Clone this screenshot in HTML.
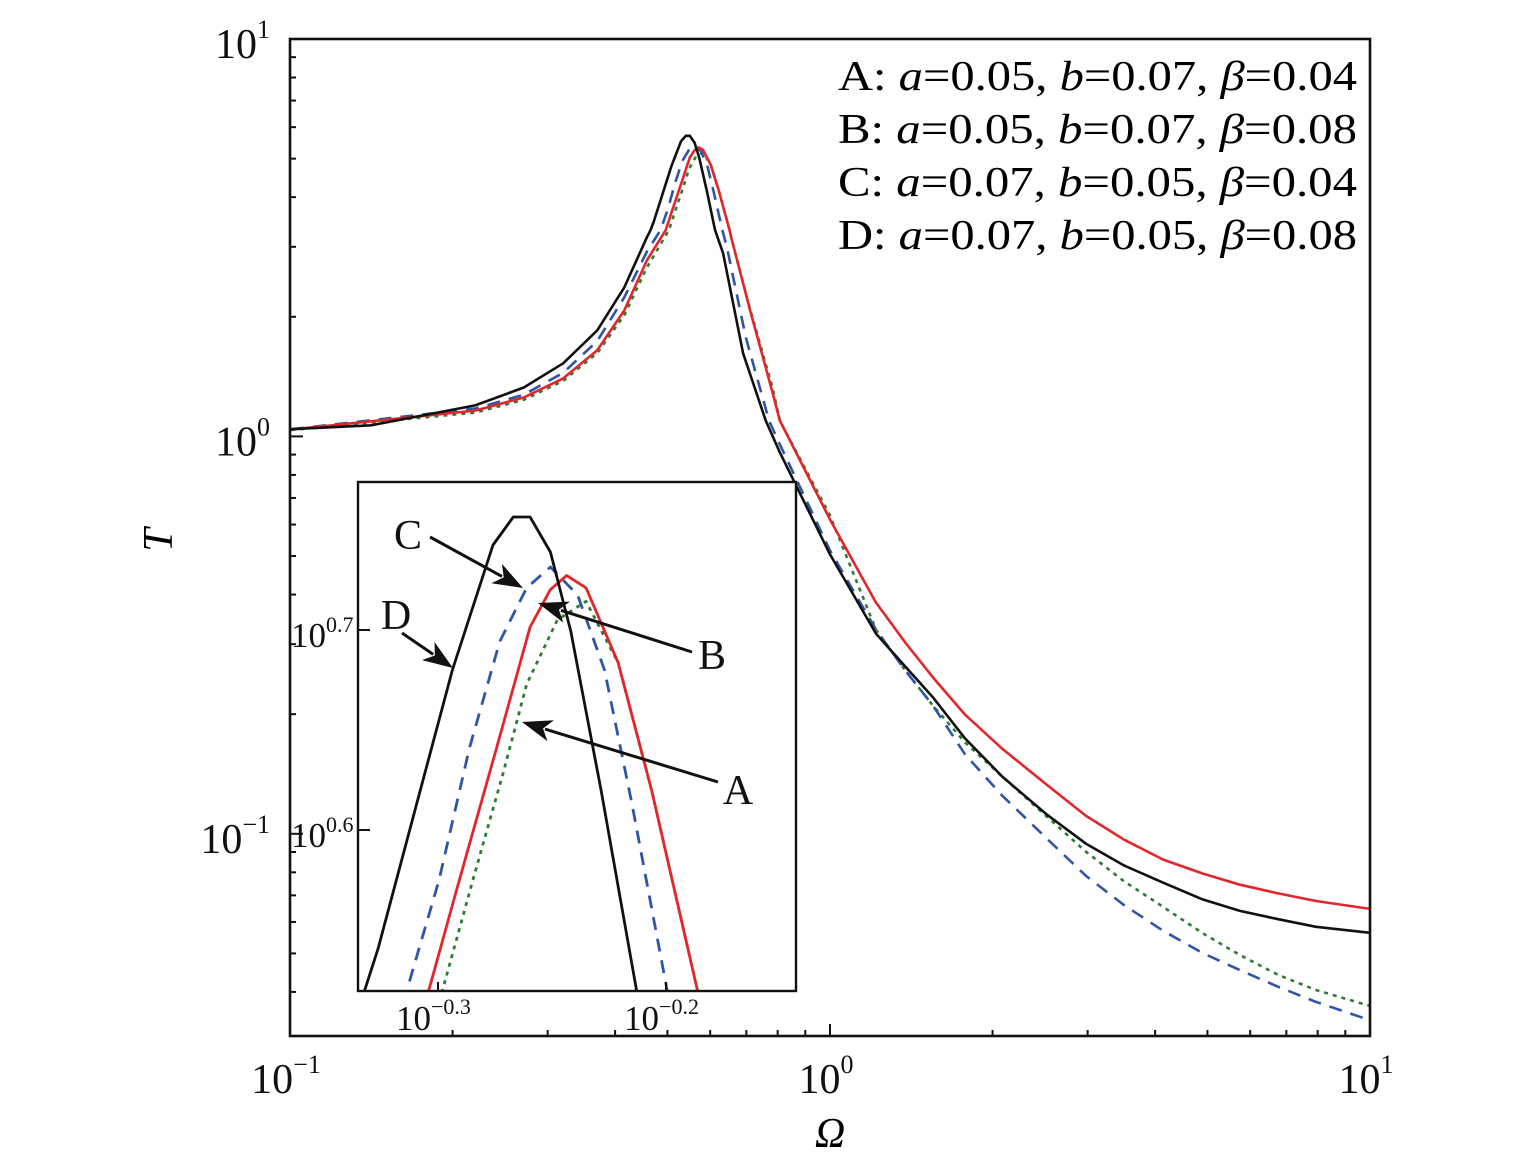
<!DOCTYPE html>
<html><head><meta charset="utf-8"><style>
html,body{margin:0;padding:0;background:#fff;overflow:hidden;width:1535px;height:1167px;}
svg{display:block;font-family:"Liberation Serif","Times New Roman",serif;}
text{font-family:"Liberation Serif","Times New Roman",serif;}
</style></head><body>
<svg id="chart" width="1535" height="1167" viewBox="0 0 1535 1167" xmlns="http://www.w3.org/2000/svg" font-family="Liberation Serif, serif">
<defs>
<clipPath id="mainClip"><rect x="290" y="39" width="1080" height="997"/></clipPath>
<clipPath id="insetClip"><rect x="358" y="482" width="438" height="509"/></clipPath>
</defs>
<g id="main"></g>
<g id="legend">
<text x="838" y="90" font-size="42" textLength="519" lengthAdjust="spacingAndGlyphs">A: <tspan font-style="italic">a</tspan>=0.05, <tspan font-style="italic">b</tspan>=0.07, <tspan font-style="italic">β</tspan>=0.04</text>
<text x="838" y="143" font-size="42" textLength="519" lengthAdjust="spacingAndGlyphs">B: <tspan font-style="italic">a</tspan>=0.05, <tspan font-style="italic">b</tspan>=0.07, <tspan font-style="italic">β</tspan>=0.08</text>
<text x="838" y="196" font-size="42" textLength="519" lengthAdjust="spacingAndGlyphs">C: <tspan font-style="italic">a</tspan>=0.07, <tspan font-style="italic">b</tspan>=0.05, <tspan font-style="italic">β</tspan>=0.04</text>
<text x="838" y="249" font-size="42" textLength="519" lengthAdjust="spacingAndGlyphs">D: <tspan font-style="italic">a</tspan>=0.07, <tspan font-style="italic">b</tspan>=0.05, <tspan font-style="italic">β</tspan>=0.08</text>
</g>
<text x="160" y="552" font-size="42" font-style="italic" text-anchor="middle" transform="rotate(-90 160 540)">T</text>
<text x="830" y="1147" font-size="42" font-style="italic" text-anchor="middle">Ω</text>
<g id="inset"></g>
<g id="annot"></g>
</svg>
<script>
// log10(Omega) and log10(T) values
const seriesNames = ['A','B','C','D'];
const seriesColors = ['#2f7d35','#2f55a8','#e2262b','#111111'];
const seriesDash = ['4,5','13,9','',''];
const logOmegaA = [-0.998,-0.657,-0.567,-0.494,-0.431,-0.381,-0.339,-0.2981,-0.2848,-0.2715,-0.2611,-0.2477,-0.2351,-0.2210,-0.2062,-0.1862,-0.183,-0.148,-0.106,-0.093,0,0.085,0.14,0.191,0.25,0.319,0.40,0.474,0.545,0.617,0.69,0.759,0.83,0.9,1.0];
const logTA = [0.016,0.06,0.092,0.14,0.21,0.305,0.425,0.5197,0.5747,0.6282,0.6729,0.705,0.7143,0.6836,0.6193,0.5197,0.50,0.32,0.12,0.04,-0.199,-0.486,-0.59,-0.678,-0.77,-0.856,-0.955,-1.045,-1.12,-1.184,-1.25,-1.305,-1.355,-1.393,-1.433];
const logOmegaB = [-0.998,-0.657,-0.567,-0.494,-0.431,-0.381,-0.339,-0.3137,-0.2996,-0.2863,-0.2729,-0.2611,-0.2507,-0.2388,-0.2270,-0.2151,-0.1995,-0.191,-0.156,-0.113,-0.093,0,0.085,0.14,0.191,0.25,0.319,0.40,0.474,0.545,0.617,0.69,0.759,0.83,0.9,1.0];
const logTB = [0.018,0.07,0.105,0.16,0.24,0.35,0.465,0.5197,0.5747,0.6407,0.6943,0.7211,0.7315,0.7175,0.680,0.614,0.5197,0.476,0.249,0.040,-0.02,-0.287,-0.486,-0.59,-0.678,-0.80,-0.904,-1.01,-1.106,-1.18,-1.244,-1.30,-1.343,-1.385,-1.423,-1.469];
const logOmegaC = [-0.998,-0.657,-0.567,-0.494,-0.431,-0.381,-0.339,-0.3041,-0.2907,-0.2744,-0.2596,-0.2507,-0.2436,-0.2351,-0.2210,-0.2062,-0.1862,-0.183,-0.148,-0.106,-0.093,0,0.085,0.14,0.191,0.25,0.319,0.40,0.474,0.545,0.617,0.69,0.759,0.83,0.9,1.0];
const logTC = [0.017,0.065,0.098,0.146,0.217,0.317,0.443,0.5197,0.5747,0.6407,0.7015,0.7202,0.7272,0.7211,0.6836,0.6193,0.5197,0.501,0.317,0.108,0.040,-0.209,-0.418,-0.52,-0.607,-0.70,-0.786,-0.875,-0.955,-1.015,-1.065,-1.10,-1.128,-1.15,-1.169,-1.189];
const logOmegaD = [-0.998,-0.85,-0.657,-0.567,-0.494,-0.431,-0.381,-0.339,-0.3322,-0.3263,-0.310,-0.2937,-0.2759,-0.2670,-0.2596,-0.2507,-0.2418,-0.2284,-0.2129,-0.198,-0.161,-0.119,-0.093,0,0.085,0.14,0.191,0.25,0.319,0.40,0.474,0.545,0.617,0.69,0.759,0.83,0.9,1.0];
const logTD = [0.018,0.028,0.078,0.123,0.184,0.267,0.375,0.501,0.5197,0.5407,0.6103,0.680,0.7425,0.7565,0.7565,0.739,0.6996,0.6193,0.5197,0.461,0.209,0.040,-0.040,-0.297,-0.496,-0.58,-0.657,-0.76,-0.856,-0.95,-1.025,-1.08,-1.123,-1.165,-1.194,-1.215,-1.234,-1.249];
const xTickExp = [-1,0,1];
const yTickExp = [-1,0,1];
const insetXTickExp = ['-0.3','-0.2'];
const insetYTickExp = ['0.7','0.6'];

const NS='http://www.w3.org/2000/svg';
const FF='Liberation Serif, Times New Roman, serif';
function mk(tag,attrs,parent){const e=document.createElementNS(NS,tag);for(const k in attrs)e.setAttribute(k,attrs[k]);parent.appendChild(e);return e;}
const mX0=290,mX1=1370,mY0=39,mY1=1036, mxMin=-1,mxMax=1, myMin=-1.5088,myMax=1;
const mx=v=>mX0+(v-mxMin)/(mxMax-mxMin)*(mX1-mX0);
const my=v=>mY1-(v-myMin)/(myMax-myMin)*(mY1-mY0);
const iX0=358,iX1=796,iY0=482,iY1=991, ixMin=-0.3351,ixMax=-0.1430, iyMin=0.5195,iyMax=0.7740;
const ix=v=>iX0+(v-ixMin)/(ixMax-ixMin)*(iX1-iX0);
const iy=v=>iY1-(v-iyMin)/(iyMax-iyMin)*(iY1-iY0);

const allX=[logOmegaA,logOmegaB,logOmegaC,logOmegaD], allY=[logTA,logTB,logTC,logTD];
const main=document.getElementById('main');
const mg=mk('g',{'clip-path':'url(#mainClip)'},main);
for(let s=0;s<4;s++){
  const d=allX[s].map((v,i)=>(i?'L':'M')+mx(v).toFixed(1)+','+my(allY[s][i]).toFixed(1)).join('');
  const p=mk('path',{d:d,fill:'none',stroke:seriesColors[s],'stroke-width':2.6,'stroke-linejoin':'round'},mg);
  if(seriesDash[s])p.setAttribute('stroke-dasharray',seriesDash[s]);
  
  
}
const fr=mk('rect',{x:mX0,y:mY0,width:mX1-mX0,height:mY1-mY0,fill:'none',stroke:'#111','stroke-width':2.6},main);


for(let dec=-1;dec<1;dec++){for(let m=1;m<10;m++){
  const lv=dec+Math.log10(m); const major=m===1;
  const xt=mk('line',{x1:mx(lv),x2:mx(lv),y1:mY1,y2:mY1-(major?12:6),stroke:'#111','stroke-width':2},main);
  
  
}}
for(let dec=-2;dec<1;dec++){for(let m=1;m<10;m++){
  const lv=dec+Math.log10(m); if(lv<myMin||lv>myMax)continue; const major=m===1;
  const yt=mk('line',{x1:mX0,x2:mX0+(major?13:6),y1:my(lv),y2:my(lv),stroke:'#111','stroke-width':2},main);
  
  
}}
xTickExp.forEach(e=>{
  const t=mk('text',{x:mx(e)-4,y:1093,'font-size':42,'text-anchor':'middle',fill:'#111','font-family':FF},main);
  
  
  t.appendChild(document.createTextNode('10'));
  const sp=mk('tspan',{dy:-20,'font-size':26},t); sp.textContent=(e<0?'−':'')+Math.abs(e);
});
yTickExp.forEach(e=>{
  const t=mk('text',{x:270,y:my(e)+19,'font-size':42,'text-anchor':'end',fill:'#111','font-family':FF},main);
  
  
  t.appendChild(document.createTextNode('10'));
  const sp=mk('tspan',{dy:-20,'font-size':26},t); sp.textContent=(e<0?'−':'')+Math.abs(e);
});
const inset=document.getElementById('inset');
const ib=mk('rect',{x:iX0,y:iY0,width:iX1-iX0,height:iY1-iY0,fill:'#fff',stroke:'none'},inset);


const ig=mk('g',{'clip-path':'url(#insetClip)'},inset);
for(let s=0;s<4;s++){
  const d=allX[s].map((v,i)=>(i?'L':'M')+ix(v).toFixed(1)+','+iy(allY[s][i]).toFixed(1)).join('');
  const p=mk('path',{d:d,fill:'none',stroke:seriesColors[s],'stroke-width':2.8,'stroke-linejoin':'round'},ig);
  if(seriesDash[s])p.setAttribute('stroke-dasharray',seriesDash[s]==='4,5'?'4,5':'13,9');
  
  
}
const ifr=mk('rect',{x:iX0,y:iY0,width:iX1-iX0,height:iY1-iY0,fill:'none',stroke:'#111','stroke-width':2.4},inset);


insetXTickExp.forEach(e=>{
  const v=parseFloat(e);
  const tk=mk('line',{x1:ix(v),x2:ix(v),y1:iY1,y2:iY1-9,stroke:'#111','stroke-width':2},inset);
  
  
  const t=mk('text',{x:ix(v)-42,y:1030,'font-size':35,fill:'#111','font-family':FF},inset);
  
  
  t.appendChild(document.createTextNode('10'));
  const sp=mk('tspan',{dy:-16,'font-size':22},t); sp.textContent='−'+e.slice(1);
});
insetYTickExp.forEach(e=>{
  const v=parseFloat(e);
  const tk=mk('line',{x1:iX0,x2:iX0+12,y1:iy(v),y2:iy(v),stroke:'#111','stroke-width':2},inset);
  
  
  const t=mk('text',{x:291,y:iy(v)+17,'font-size':35,fill:'#111','font-family':FF},inset);
  
  
  t.appendChild(document.createTextNode('10'));
  const sp=mk('tspan',{dy:-15,'font-size':22},t); sp.textContent=e;
});
const annot=document.getElementById('annot');
const labels=[['C',408,549,430,537,523,588],['D',396,629,402,633,453,668],['B',712,669,692,652,538,603],['A',738,804,718,782,522,722]];
labels.forEach(l=>{
  const t=mk('text',{x:l[1],y:l[2],'font-size':42,'text-anchor':'middle',fill:'#111','font-family':FF},annot);
  
  
  t.textContent=l[0];
  const [x1,y1,x2,y2]=[l[3],l[4],l[5],l[6]];
  const ang=Math.atan2(y2-y1,x2-x1), L=30, W=11;
  const bx=x2-L*Math.cos(ang), by=y2-L*Math.sin(ang);
  const g=mk('g',{},annot);
  
  
  mk('line',{x1:x1,y1:y1,x2:bx+6*Math.cos(ang),y2:by+6*Math.sin(ang),stroke:'#111','stroke-width':3},g);
  const nx=-Math.sin(ang),ny=Math.cos(ang);
  mk('polygon',{points:`${x2},${y2} ${bx+W*nx},${by+W*ny} ${bx+8*Math.cos(ang)},${by+8*Math.sin(ang)} ${bx-W*nx},${by-W*ny}`,fill:'#111'},g);
});
</script>
</body></html>
